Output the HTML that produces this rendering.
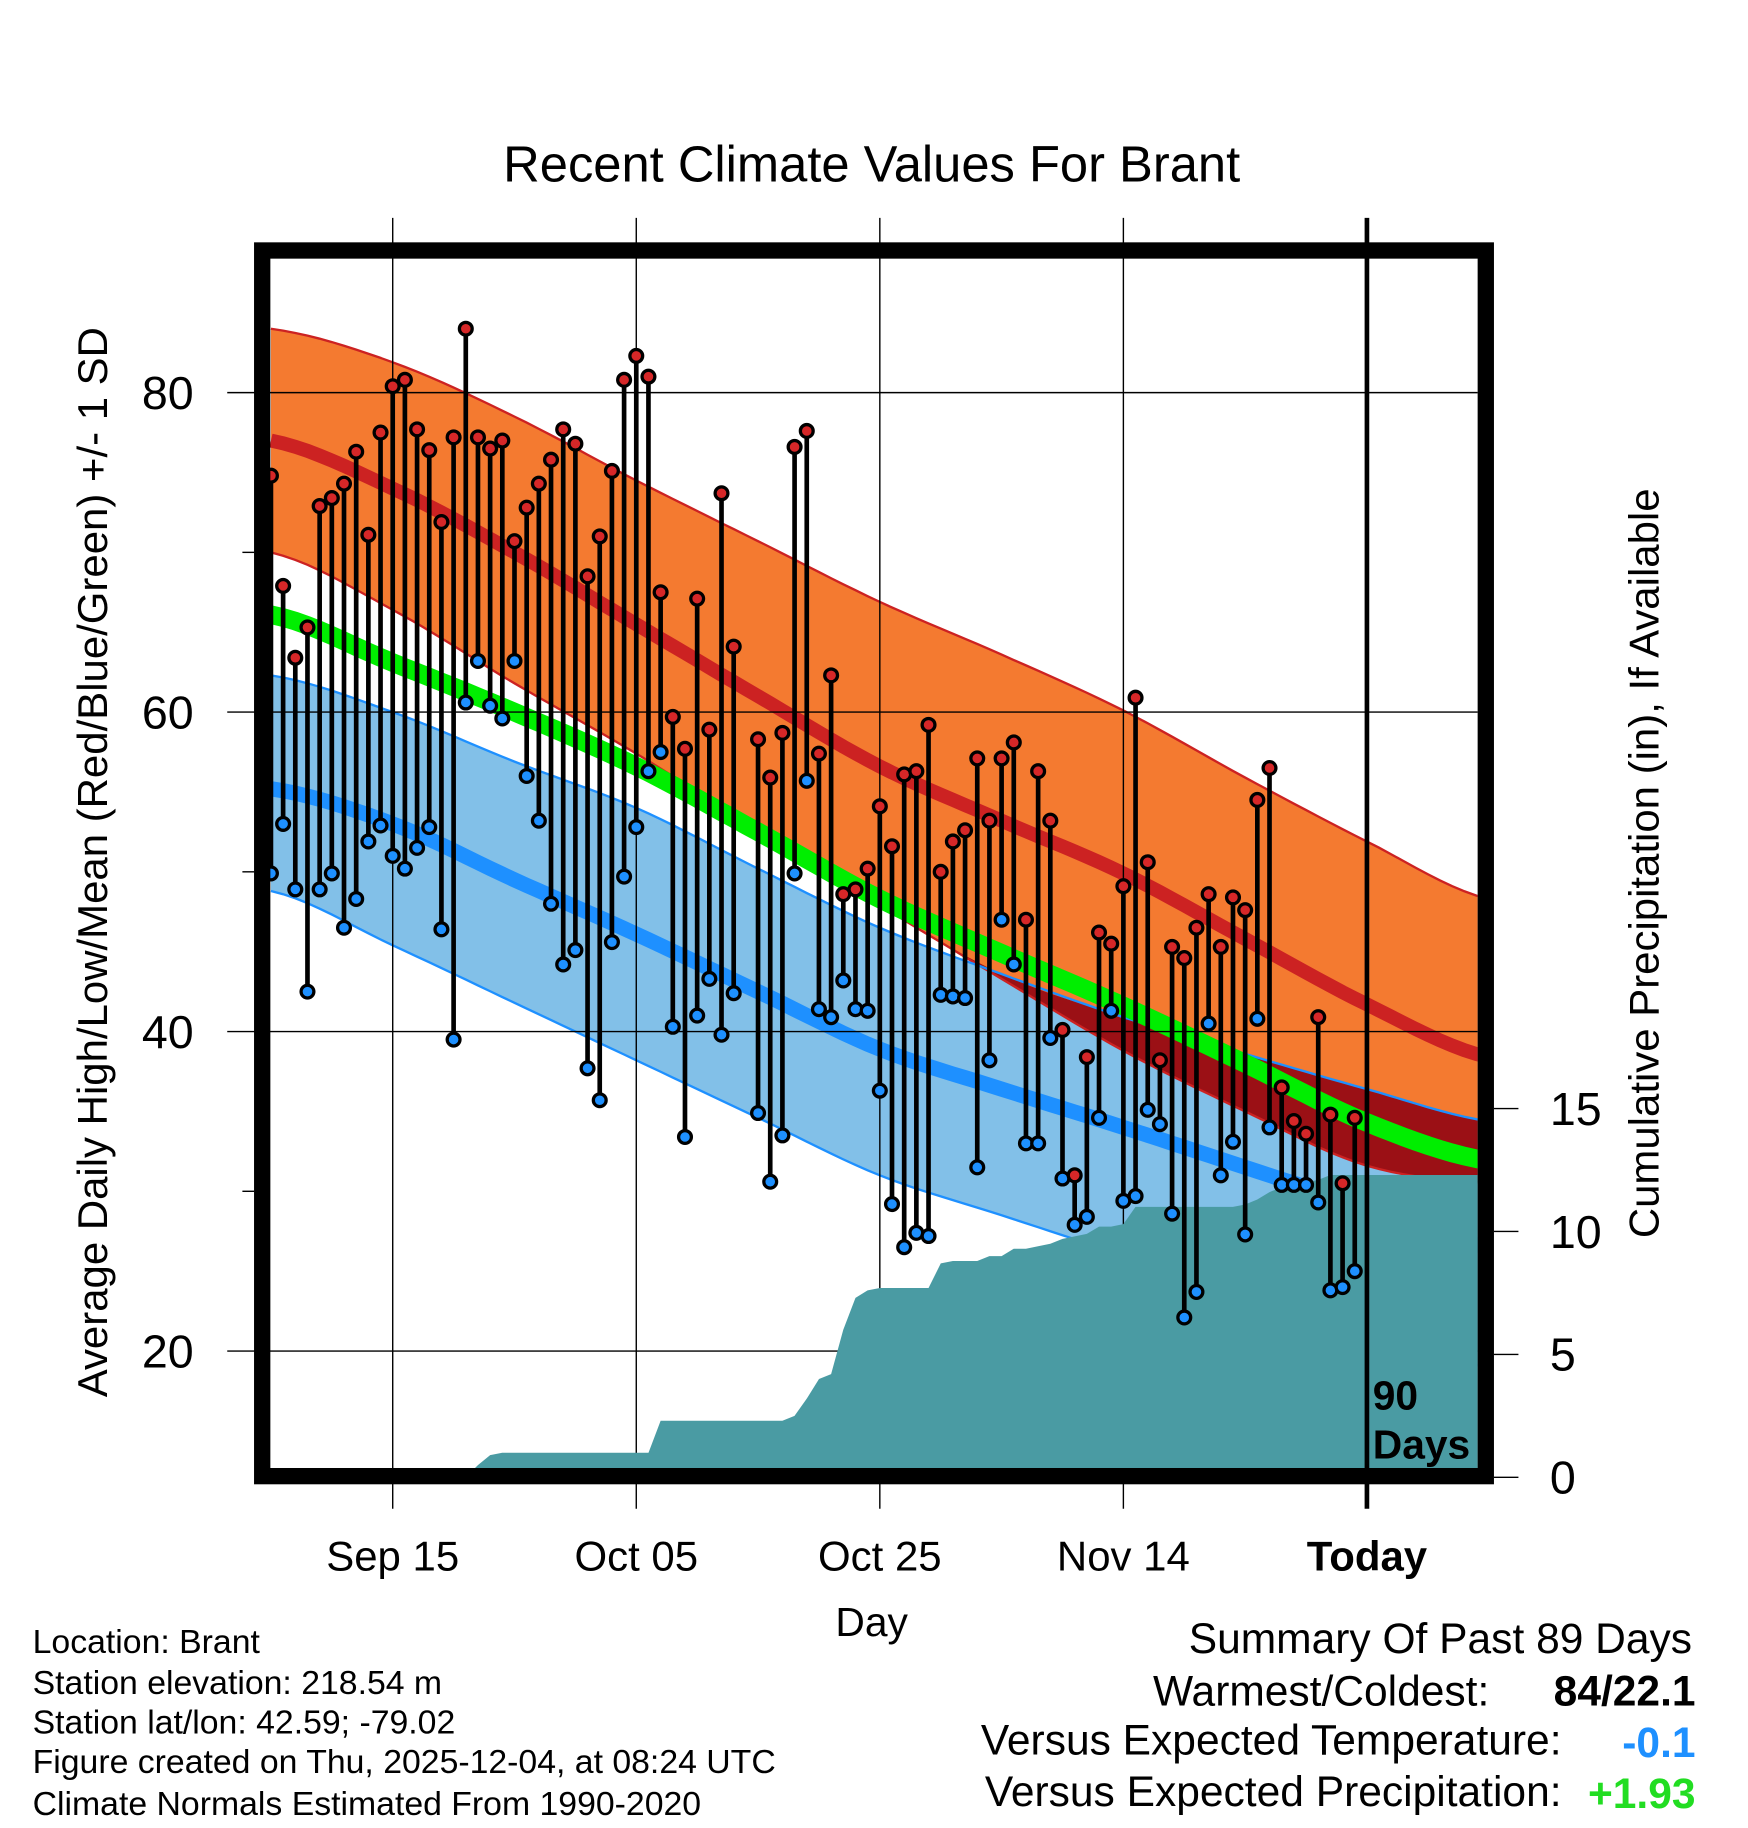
<!DOCTYPE html>
<html><head><meta charset="utf-8"><style>
html,body{margin:0;padding:0;background:#fff;}
svg{display:block;font-family:"Liberation Sans",sans-serif;}
</style></head><body>
<svg id="chart" width="1748" height="1828" viewBox="0 0 1500 1569" preserveAspectRatio="none" xmlns="http://www.w3.org/2000/svg">
<defs><clipPath id="plotclip"><rect x="231" y="222" width="1037" height="1038"/></clipPath></defs>
<text x="748" y="156" font-size="43.5" text-anchor="middle">Recent Climate Values For Brant</text>
<g id="bands" clip-path="url(#plotclip)"></g>
<g id="grid"></g>
<g id="precip" clip-path="url(#plotclip)"></g>
<g id="marks"></g>
<rect x="225" y="215" width="1050" height="1052" fill="none" stroke="#000" stroke-width="14"/>
<g id="axes"></g>
<text x="1178" y="1210" font-size="35" font-weight="bold">90</text>
<text x="1178" y="1252" font-size="35" font-weight="bold">Days</text>
<text transform="translate(92,740) rotate(-90)" font-size="36" text-anchor="middle">Average Daily High/Low/Mean (Red/Blue/Green) +/- 1 SD</text>
<text transform="translate(1423,741) rotate(-90)" font-size="36" text-anchor="middle">Cumulative Precipitation (in), If Available</text>
<text x="748" y="1404" font-size="35" text-anchor="middle">Day</text>
<g font-size="29">
<text x="28" y="1419">Location: Brant</text>
<text x="28" y="1454">Station elevation: 218.54 m</text>
<text x="28" y="1488">Station lat/lon: 42.59; -79.02</text>
<text x="28" y="1522">Figure created on Thu, 2025-12-04, at 08:24 UTC</text>
<text x="28" y="1558">Climate Normals Estimated From 1990-2020</text>
</g>
<g font-size="36.5">
<text x="1452" y="1419" text-anchor="end">Summary Of Past 89 Days</text>
<text x="1278" y="1464" text-anchor="end">Warmest/Coldest:</text>
<text x="1455" y="1464" text-anchor="end" font-weight="bold">84/22.1</text>
<text x="1340" y="1506" text-anchor="end">Versus Expected Temperature:</text>
<text x="1455" y="1508" text-anchor="end" font-weight="bold" fill="#1e90ff">-0.1</text>
<text x="1340" y="1550" text-anchor="end">Versus Expected Precipitation:</text>
<text x="1455" y="1552" text-anchor="end" font-weight="bold" fill="#22dd22">+1.93</text>
</g>
</svg>
<script>
const NS='http://www.w3.org/2000/svg';
// normals sampled every 10 days starting Sep 05
const normDays=[0,10,20,30,40,50,60,70,80,90,100];
const hiTop=[84.0,81.9,78.5,74.5,70.7,66.9,63.6,60.1,55.9,51.9,48.3];
const hiMean=[77.0,74.0,70.0,65.5,61.0,56.6,53.2,49.9,45.8,41.7,38.4];
const hiBot=[70.0,66.4,61.8,57.4,52.6,47.9,43.3,38.8,35.0,31.6,30.5];
const avgMean=[66.1,63.1,60.0,56.6,52.5,48.3,44.9,41.6,38.0,34.3,31.9];
const loTop=[62.3,60.0,56.9,54.0,50.2,46.5,43.6,40.9,38.6,36.4,34.4];
const loMean=[55.2,53.0,49.5,46.1,42.5,38.9,36.4,34.0,31.5,29.0,26.5];
const loBot=[48.8,45.4,41.8,38.2,34.6,31.0,28.5,26.0,23.5,21.0,19.0];
// daily observations, day 0 = Sep 05
const highs=[74.8,67.9,63.4,65.3,72.9,73.4,74.3,76.3,71.1,77.5,80.4,80.8,77.7,76.4,71.9,77.2,84.0,77.2,76.5,77.0,70.7,72.8,74.3,75.8,77.7,76.8,68.5,71.0,75.1,80.8,82.3,81.0,67.5,59.7,57.7,67.1,58.9,73.7,64.1,null,58.3,55.9,58.7,76.6,77.6,57.4,62.3,48.6,48.9,50.2,54.1,51.6,56.1,56.3,59.2,50.0,51.9,52.6,57.1,53.2,57.1,58.1,47.0,56.3,53.2,40.1,31.0,38.4,46.2,45.5,49.1,60.9,50.6,38.2,45.3,44.6,46.5,48.6,45.3,48.4,47.6,54.5,56.5,36.5,34.4,33.6,40.9,34.8,30.5,34.6];
const lows=[49.9,53.0,48.9,42.5,48.9,49.9,46.5,48.3,51.9,52.9,51.0,50.2,51.5,52.8,46.4,39.5,60.6,63.2,60.4,59.6,63.2,56.0,53.2,48.0,44.2,45.1,37.7,35.7,45.6,49.7,52.8,56.3,57.5,40.3,33.4,41.0,43.3,39.8,42.4,null,34.9,30.6,33.5,49.9,55.7,41.4,40.9,43.2,41.4,41.3,36.3,29.2,26.5,27.4,27.2,42.3,42.2,42.1,31.5,38.2,47.0,44.2,33.0,33.0,39.6,30.8,27.9,28.4,34.6,41.3,29.4,29.7,35.1,34.2,28.6,22.1,23.7,40.5,31.0,33.1,27.3,40.8,34.0,30.4,30.4,30.4,29.3,23.8,24.0,25.0];
const precipCum=[0,0,0,0,0,0,0,0,0,0,0,0,0,0,0,0,0,0.5,0.9,1.0,1.0,1.0,1.0,1.0,1.0,1.0,1.0,1.0,1.0,1.0,1.0,1.0,2.3,2.3,2.3,2.3,2.3,2.3,2.3,2.3,2.3,2.3,2.3,2.5,3.2,4.0,4.2,6.0,7.3,7.6,7.7,7.7,7.7,7.7,7.7,8.7,8.8,8.8,8.8,9.0,9.0,9.3,9.3,9.4,9.5,9.7,9.8,9.9,10.2,10.2,10.3,11.0,11.0,11.0,11.0,11.0,11.0,11.0,11.0,11.0,11.1,11.3,11.6,11.8,11.9,12.0,12.1,12.3,12.3,12.3];
const xTickDays=[10,30,50,70,90];
const xTickLabels=['Sep 15','Oct 05','Oct 25','Nov 14','Today'];
const yTicks=[20,40,60,80];
const yMinor=[30,50,70];
const pTicks=[0,5,10,15];

const X=d=>232.5+10.45*d;
const Y=v=>337+(80-v)*13.71;
const P=p=>1268-p*21.1;
function el(tag,attrs,parent){const e=document.createElementNS(NS,tag);for(const k in attrs)e.setAttribute(k,attrs[k]);parent.appendChild(e);return e;}
const bands=document.getElementById('bands'),grid=document.getElementById('grid'),precip=document.getElementById('precip'),marks=document.getElementById('marks'),axes=document.getElementById('axes');
// smooth densified points via Catmull-Rom
function smooth(arr){
  const n=arr.length,out=[];
  for(let i=0;i<n-1;i++){
    const p0=arr[Math.max(0,i-1)],p1=arr[i],p2=arr[i+1],p3=arr[Math.min(n-1,i+2)];
    for(let s=0;s<10;s++){const t=s/10,t2=t*t,t3=t2*t;
      const v=0.5*((2*p1)+(-p0+p2)*t+(2*p0-5*p1+4*p2-p3)*t2+(-p0+3*p1-3*p2+p3)*t3);
      out.push([normDays[i]+(normDays[i+1]-normDays[i])*t,v]);}
  }
  out.push([normDays[n-1],arr[n-1]]);
  return out;
}
const pts=arr=>smooth(arr).map(p=>X(p[0]).toFixed(1)+','+Y(p[1]).toFixed(1));
function bandPoly(top,bot,fill,name){
  const p=pts(top).concat(pts(bot).reverse()).join(' ');
  const e=el('polygon',{points:p,fill:fill},bands);
  
  
}
function line(arr,color,w,name){
  const e=el('polyline',{points:pts(arr).join(' '),fill:'none',stroke:color,'stroke-width':w},bands);
  
  
}
bandPoly(loTop,loBot,'#82c0e8','low-sd-band');
bandPoly(hiTop,hiBot,'#f47a30','high-sd-band');
const overlapTop=loTop.map((v,i)=>Math.max(v,hiBot[i]));
bandPoly(overlapTop,hiBot,'#9b1015','band-overlap');
line(hiTop,'#cc2222',2,'high-sd-top-edge');
line(hiBot,'#cc2222',2,'high-sd-bottom-edge');
line(loTop,'#1e90ff',2,'low-sd-top-edge');
line(loBot,'#1e90ff',2,'low-sd-bottom-edge');
line(avgMean,'#00ee00',16,'mean-normal-line');
line(loMean,'#1e90ff',13,'low-normal-line');
line(hiMean,'#cc2222',12,'high-normal-line');
// grid
yTicks.forEach(v=>{
  const g=el('line',{x1:195,x2:1268,y1:Y(v),y2:Y(v),stroke:'#000','stroke-width':1.2},grid);
  
  
  const t=el('text',{x:144,y:Y(v)+14,'font-size':40,'text-anchor':'middle'},axes);
  t.textContent=v;
  
  
});
yMinor.forEach(v=>{
  const g=el('line',{x1:208,x2:218,y1:Y(v),y2:Y(v),stroke:'#000','stroke-width':1.2},axes);
  
  
});
xTickDays.forEach((d,i)=>{
  const isToday=xTickLabels[i]==='Today';
  const g=el('line',{x1:X(d),x2:X(d),y1:187,y2:1295,stroke:'#000','stroke-width':isToday?4:1.2},isToday?marks:grid);
  
  
  const t=el('text',{x:X(d),y:1348,'font-size':36,'text-anchor':'middle','font-weight':isToday?'bold':'normal'},axes);
  t.textContent=xTickLabels[i];
  
  
});
pTicks.forEach(p=>{
  const g=el('line',{x1:1282,x2:1303,y1:P(p),y2:P(p),stroke:'#000','stroke-width':1.2},axes);
  
  
  const t=el('text',{x:1330,y:P(p)+14,'font-size':40},axes);
  t.textContent=p;
  
  
});
// precip
{
  let p=[X(0)+','+P(0)];
  precipCum.forEach((v,d)=>p.push(X(d).toFixed(1)+','+P(v).toFixed(1)));
  const last=precipCum[precipCum.length-1];
  p.push('1275,'+P(last).toFixed(1));p.push('1275,'+P(0));
  const e=el('polygon',{points:p.join(' '),fill:'#4a9ba3'},precip);
  
  
}
// daily marks
highs.forEach((h,d)=>{
  const l=lows[d];
  if(h==null||l==null)return;
  const s=el('line',{x1:X(d),x2:X(d),y1:Y(h),y2:Y(l),stroke:'#000','stroke-width':4},marks);
  
  
  const ch=el('circle',{cx:X(d),cy:Y(h),r:5.5,fill:'#d62728',stroke:'#000','stroke-width':2.8},marks);
  
  
  const cl=el('circle',{cx:X(d),cy:Y(l),r:5.5,fill:'#1e90ff',stroke:'#000','stroke-width':2.8},marks);
  
  
});
</script>
</body></html>
